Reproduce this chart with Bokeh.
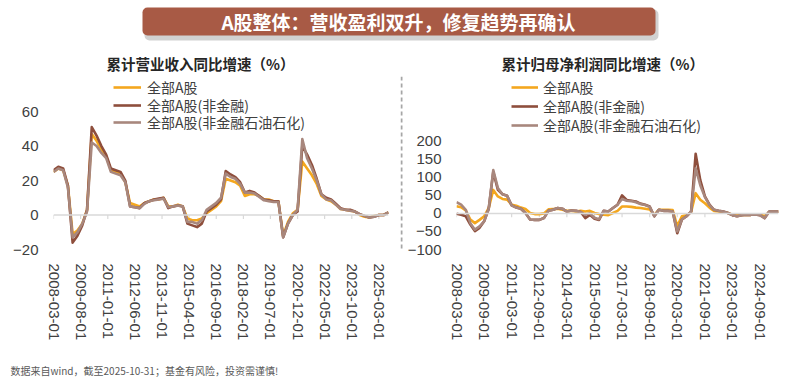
import pandas as pd
from bokeh.plotting import figure
from bokeh.models import (Range1d, FixedTicker, DatetimeTickFormatter, Span, Label,
                          BoxAnnotation, Title, Legend, LegendItem)
from bokeh.layouts import column, row
from bokeh.embed import file_html
from bokeh.resources import INLINE

# ---------------- data ----------------
dates = pd.date_range(start="2008-03-01", periods=71, freq="3MS")

rev_all = [25, 27, 26, 17, -11, -9, -5, 3, 47, 43, 38, 34, 26, 25, 24, 19, 7, 6, 5, 7,
           8, 9, 9, 10, 5, 5, 6, 5, -2, -3, -3, -2, 1, 3, 5, 8, 21, 20, 19, 17,
           11, 12, 12, 11, 9, 9, 8, 8, -12, -4, 1, 3, 31, 27, 23, 18, 11, 9, 8, 6,
           3.5, 3, 2.5, 2, 0, -1, -1.5, -0.5, 0, 0, 1.5]
rev_nonfin = [26, 28, 27, 17, -16, -12, -6, 3, 51, 46, 40, 35, 27, 26, 25, 20, 5, 4.5, 4, 7,
              8, 9, 9.5, 10, 4, 5, 5.5, 5, -5, -6, -7, -5, 2, 4, 6, 9, 25.5, 23.5, 22, 19,
              13, 14, 13, 11, 9, 8.5, 8, 8, -13, -5, 0, 2, 40, 35, 29, 21, 12, 10, 9, 6.5,
              4, 3, 3, 2, 0.5, -0.5, -1.5, -1, 0, 0, 1.5]
rev_exoil = [25, 27, 26, 16, -13, -10, -5, 2, 42, 40, 36, 33, 25, 24, 23, 19, 5, 4.5, 4, 6.5,
             8, 8.5, 9, 9.5, 4.5, 5, 5.5, 5, -4, -4, -5, -3, 3, 5, 7, 10, 24, 22, 21, 18,
             13, 13, 12.5, 10.5, 8.5, 8, 7.5, 7.5, -13, -5, 0, 3, 44, 33, 27, 20, 12, 9, 8.5, 6,
             3.5, 3, 2.5, 2, 0.5, -0.5, -1.5, -1, 0, 0, 1.5]

np_all = [20, 17, 8, -17, -27, -18, -8, 15, 65, 47, 40, 38, 24, 21, 16, 12, 1, -2, -2, 0,
          11, 12, 13, 10, 7, 7, 5, 7, 5, 7, 1, -2, -4, -5, 1, 7, 19, 19, 18, 16,
          15, 13, 11, -4, 10, 10, 10, 9, -35, -8, -5, 4, 56, 38, 28, 16, 7, 5, 4, 1,
          -4, -4, -4, -4, -4, -3, -3, -8, 4, 4, 5]
np_nonfin = [-1, -4, -8, -31, -49, -40, -22, 13, 115, 65, 53, 49, 22, 16, 13, 1, -17, -18, -18, -13,
             7, 10, 15, 13, 5, 8, 7, 4, -13, -4, -15, -18, 7, 5, 15, 24, 50, 37, 35, 33,
             27, 24, 19, -8, 10, 7, 7, 5, -55, -17, -8, 5, 165, 92, 47, 24, 10, 7, 5, 1,
             -5, -8, -5, -4, -4, -3, -5, -13, 5, 5, 5]
np_exoil = [31, 24, 10, -27, -45, -36, -22, 13, 120, 70, 53, 49, 22, 16, 13, 1, -17, -18, -18, -13,
            7, 10, 15, 13, 5, 8, 7, 4, -4, 0, -12, -16, 7, 5, 15, 24, 40, 35, 34, 31,
            26, 23, 18, -8, 10, 7, 7, 5, -50, -17, -8, 5, 125, 78, 45, 23, 10, 7, 5, 1,
            -5, -8, -5, -4, -4, -3, -5, -13, 5, 5, 5]

series_names = ["全部A股", "全部A股(非金融)", "全部A股(非金融石油石化)"]
left_ticks = ["2008-03-01", "2009-08-01", "2011-01-01", "2012-06-01", "2013-11-01",
              "2015-04-01", "2016-09-01", "2018-02-01", "2019-07-01", "2020-12-01",
              "2022-05-01", "2023-10-01", "2025-03-01"]
right_ticks = ["2008-03-01", "2009-09-01", "2011-03-01", "2012-09-01", "2014-03-01",
               "2015-09-01", "2017-03-01", "2018-09-01", "2020-03-01", "2021-09-01",
               "2023-03-01", "2024-09-01"]
left_yticks = [-20, 0, 20, 40, 60]
right_yticks = [-100, -50, 0, 50, 100, 150, 200]

title_main = "A股整体：营收盈利双升，修复趋势再确认"
title_left = "累计营业收入同比增速（%）"
title_right = "累计归母净利润同比增速（%）"
footer_text = "数据来自wind，截至2025-10-31；基金有风险，投资需谨慎!"

# ---------------- style ----------------
COLORS = ["#F4A71E", "#8E4E3C", "#A8877D"]
CJK = "Noto Sans CJK SC"
NUM = "Liberation Sans"
CHART_H = 316


def make_chart(title, ys, yticks, yrange, xticks, width, mb_left, mb_right,
               title_offset, leg_x, leg_ys, leg_glyph_w, leg_standoff, tick_len):
    p = figure(width=width, height=CHART_H, output_backend="svg", toolbar_location=None,
               x_axis_type="datetime",
               x_range=Range1d(start=dates[0], end=dates[-1]),
               y_range=Range1d(*yrange),
               min_border_left=mb_left, min_border_right=mb_right,
               min_border_top=28, min_border_bottom=115)
    p.title = Title(text=title, align="left", offset=title_offset,
                    text_font=CJK, text_font_size="14.5px", text_font_style="bold",
                    text_color="#262626", standoff=5)
    p.outline_line_color = None
    p.background_fill_color = "white"
    p.border_fill_color = "white"
    p.xgrid.visible = False
    p.ygrid.visible = False

    # zero line and tick marks
    p.add_layout(Span(location=0, dimension="width", line_color="#D9D9D9", line_width=1.5))
    tick_dates = [pd.Timestamp(t) for t in xticks]
    p.segment(x0=tick_dates, y0=[0] * len(tick_dates), x1=tick_dates,
              y1=[-tick_len] * len(tick_dates), line_color="#D9D9D9", line_width=1.2)

    renderers = []
    for y, c in zip(ys, COLORS):
        renderers.append(p.line(dates, y, line_color=c, line_width=2.6, line_join="round"))

    # one legend per row for exact row spacing
    for r, n, ly in zip(renderers, series_names, leg_ys):
        lg = Legend(items=[LegendItem(label=n, renderers=[r])], location=(leg_x, ly),
                    border_line_color=None, background_fill_alpha=0, padding=0, margin=0,
                    spacing=0, glyph_width=leg_glyph_w, glyph_height=20, label_height=20,
                    label_standoff=leg_standoff, label_text_font=CJK,
                    label_text_font_size="14px", label_text_color="#404040")
        p.add_layout(lg)

    p.xaxis.ticker = FixedTicker(ticks=[pd.Timestamp(t).value / 1e6 for t in xticks])
    p.xaxis.formatter = DatetimeTickFormatter(
        days="%Y-%m-%d", months="%Y-%m-%d", years="%Y-%m-%d",
        hours="%Y-%m-%d", hourmin="%Y-%m-%d", minutes="%Y-%m-%d",
        context=None)
    p.xaxis.major_label_orientation = "vertical"
    p.xaxis.major_label_text_font = NUM
    p.xaxis.major_label_text_font_size = "15px"
    p.xaxis.major_label_text_color = "#404040"
    p.xaxis.major_label_standoff = 8
    p.xaxis.axis_line_color = None
    p.xaxis.major_tick_line_color = None
    p.xaxis.minor_tick_line_color = None

    p.yaxis.ticker = FixedTicker(ticks=yticks)
    p.yaxis.major_label_text_font = NUM
    p.yaxis.major_label_text_font_size = "15px"
    p.yaxis.major_label_text_color = "#404040"
    p.yaxis.major_label_standoff = 9
    p.yaxis.axis_line_color = None
    p.yaxis.major_tick_line_color = None
    p.yaxis.minor_tick_line_color = None
    return p


left = make_chart(title_left, [rev_all, rev_nonfin, rev_exoil], left_yticks, (-20, 80.3),
                  left_ticks, 400, 53, 12, 53, 60, [152, 134.5, 117], 28, 6, 2.3)
right = make_chart(title_right, [np_all, np_nonfin, np_exoil], right_yticks, (-100, 379),
                   right_ticks, 396, 51, 22, 45, 55, [152, 133, 114], 27, 5, 11)

# separator
sep = figure(width=4, height=CHART_H, output_backend="svg", toolbar_location=None,
             x_range=Range1d(0, 4), y_range=Range1d(0, 1), x_axis_type=None,
             y_axis_type=None, min_border=0, min_border_bottom=19)
sep.outline_line_color = None
sep.xgrid.visible = False
sep.ygrid.visible = False
sep.add_layout(Span(location=1, dimension="height", line_color="#A6A6A6",
                    line_width=2, line_dash="4 3"))

# banner
banner = figure(width=800, height=48, output_backend="svg", toolbar_location=None,
                x_range=Range1d(0, 800), y_range=Range1d(0, 48), x_axis_type=None,
                y_axis_type=None, min_border=0)
banner.outline_line_color = None
banner.xgrid.visible = False
banner.ygrid.visible = False
banner.add_layout(BoxAnnotation(left=144, right=658, bottom=8, top=39,
                                fill_color="#9A9A9A", fill_alpha=0.45,
                                line_color=None, border_radius=5))
banner.add_layout(BoxAnnotation(left=142, right=655, bottom=13, top=41,
                                fill_color="#A85A45", fill_alpha=1,
                                line_color=None, border_radius=5))
banner.add_layout(Label(x=398, y=27, text=title_main, text_align="center",
                        text_baseline="middle", text_font=CJK, text_font_size="19px",
                        text_font_style="bold", text_color="white"))

# footer
footer = figure(width=800, height=16, output_backend="svg", toolbar_location=None,
                x_range=Range1d(0, 800), y_range=Range1d(0, 16), x_axis_type=None,
                y_axis_type=None, min_border=0)
footer.outline_line_color = None
footer.xgrid.visible = False
footer.ygrid.visible = False
footer.add_layout(Label(x=10, y=10, text=footer_text, text_align="left",
                        text_baseline="middle", text_font=CJK, text_font_size="10px",
                        text_color="#595959"))

layout = column(banner, row(left, sep, right), footer)
open("out.html", "w").write(file_html(layout, INLINE))
